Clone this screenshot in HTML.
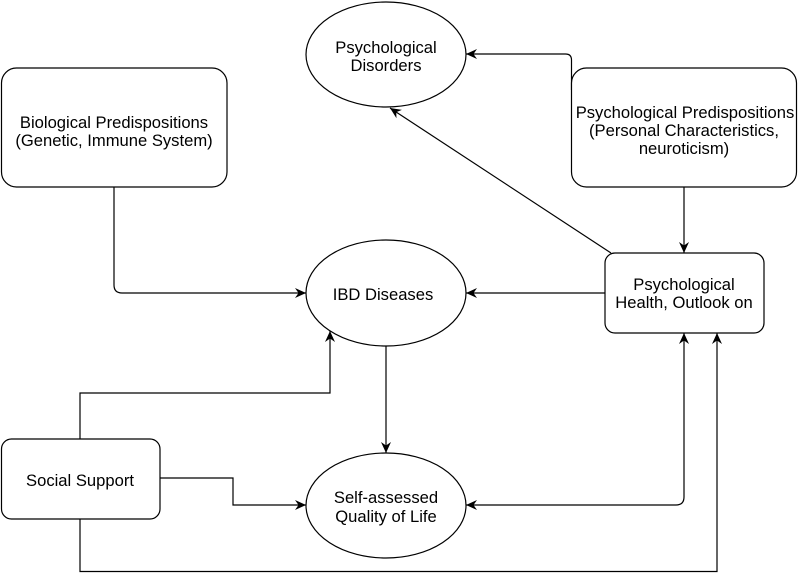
<!DOCTYPE html>
<html>
<head>
<meta charset="utf-8">
<style>
  html, body { margin: 0; padding: 0; background: #ffffff; }
  svg { display: block; }
  text { font-family: "Liberation Sans", Arial, sans-serif; font-size: 16.6px; fill: #000; }
</style>
</head>
<body>
<svg width="798" height="573" viewBox="0 0 798 573" xmlns="http://www.w3.org/2000/svg">
  <defs>
    <marker id="a" viewBox="-12 -6 13 12" refX="0" refY="0" markerWidth="13" markerHeight="12" markerUnits="userSpaceOnUse" orient="auto-start-reverse">
      <path d="M0,0 L-11,-5 L-7.5,0 L-11,5 Z" fill="#000"/>
    </marker>
  </defs>

  <g fill="none" stroke="#000" stroke-width="1.2">
    <!-- Bio -> IBD -->
    <path d="M114,187 V285 Q114,293 122,293 H306" marker-end="url(#a)"/>
    <!-- Psych pred -> Psych disorders -->
    <path d="M571.5,90 V60 Q571.5,54 565.5,54 H466" marker-end="url(#a)"/>
    <!-- Psych health -> Psych disorders -->
    <path d="M611,253 L390,108" marker-end="url(#a)"/>
    <!-- Psych pred -> Psych health -->
    <path d="M684,187 V253" marker-end="url(#a)"/>
    <!-- Psych health -> IBD -->
    <path d="M605,293 H466" marker-end="url(#a)"/>
    <!-- IBD -> Self -->
    <path d="M386,346 V453" marker-end="url(#a)"/>
    <!-- Social -> IBD -->
    <path d="M80,439 V393 H330 V331" marker-end="url(#a)"/>
    <!-- Social -> Self -->
    <path d="M160,478 H233 V505 H306" marker-end="url(#a)"/>
    <!-- Social -> Psych health -->
    <path d="M80,519 V571.5 H717 V333" marker-end="url(#a)"/>
    <!-- Self <-> Psych health -->
    <path d="M466,505 H676 Q684,505 684,497 V333" marker-start="url(#a)" marker-end="url(#a)"/>
  </g>

  <!-- Shapes -->
  <g fill="#fff" stroke="#000" stroke-width="1.2">
    <rect x="1.5" y="68" width="225.5" height="119" rx="15" ry="15"/>
    <rect x="571.5" y="68" width="225" height="119" rx="15" ry="15"/>
    <rect x="605" y="253" width="159" height="80" rx="10" ry="10"/>
    <rect x="1.5" y="439" width="158.5" height="80" rx="10" ry="10"/>
    <ellipse cx="386" cy="54.5" rx="80" ry="52.5"/>
    <ellipse cx="386" cy="293" rx="80" ry="53"/>
    <ellipse cx="386" cy="505.5" rx="80" ry="52.5"/>
  </g>

  <!-- Labels -->
  <g text-anchor="middle">
    <text x="114" y="128">Biological Predispositions</text>
    <text x="114" y="146">(Genetic, Immune System)</text>

    <text x="685" y="118">Psychological Predispositions</text>
    <text x="684" y="136">(Personal Characteristics,</text>
    <text x="684" y="154">neuroticism)</text>

    <text x="386" y="53">Psychological</text>
    <text x="386" y="71">Disorders</text>

    <text x="383" y="300">IBD Diseases</text>

    <text x="684" y="290">Psychological</text>
    <text x="684" y="308">Health, Outlook on</text>

    <text x="80" y="486">Social Support</text>

    <text x="386" y="503">Self-assessed</text>
    <text x="386" y="522">Quality of Life</text>
  </g>
</svg>
</body>
</html>
